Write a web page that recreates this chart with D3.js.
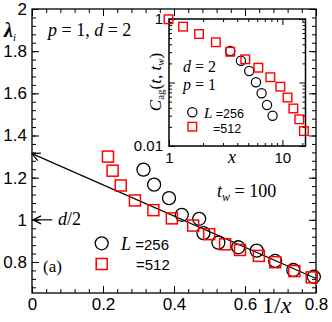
<!DOCTYPE html>
<html>
<head>
<meta charset="utf-8">
<script src="https://cdn.jsdelivr.net/npm/d3@7"></script>
<style>
body{margin:0;background:#fff;}
svg{display:block;}
.tick text{font-family:"Liberation Sans",Arial,sans-serif;}
</style>
</head>
<body>
<div id="chart-area"></div>
<script>
// main panel: lambda_i against 1/x
const invX256 = [0.314,0.344,0.386,0.422,0.471,0.483,0.525,0.581,0.633,0.685,0.736,0.794]
const lam256  = [1.238,1.167,1.103,1.024,1.005,0.937,0.892,0.870,0.854,0.805,0.762,0.730]
const invX512 = [0.214,0.227,0.250,0.290,0.342,0.394,0.454,0.499,0.544,0.586,0.639,0.685,0.739,0.788]
const lam512  = [1.300,1.233,1.163,1.092,1.046,1.007,0.973,0.932,0.884,0.857,0.829,0.799,0.757,0.727]
const fitLine = [[0,1.314],[0.8,0.722]]
const xTicks = [0,0.2,0.4,0.6,0.8]
const yTicks = [0.8,1,1.2,1.4,1.6,1.8,2]

// inset: C_ag(t,t_w) against x (log-log)
const insX256 = [3.47,4.31,5.1,5.85,6.56,7.32,8.2]
const insC256 = [0.313,0.22,0.152,0.101,0.0676,0.0443,0.030]
const insX512 = [0.99,1.33,1.84,2.59,3.47,4.71,6.14,7.83,9.6,11.1,12.5,14.1,15.5]
const insC512 = [0.99,0.757,0.58,0.43,0.305,0.232,0.171,0.121,0.086,0.058,0.039,0.0263,0.0172]

const W = 332, H = 322
const RED = '#f00'
const SERIF = '"Liberation Serif","Times New Roman",serif'
const SANS = '"Liberation Sans",Arial,sans-serif'

const svg = d3.select('#chart-area')
.append('svg')
.attr('width',W)
.attr('height',H)

// open arrowhead, tip pointing along +x
svg.append('defs').append('marker')
.attr('id','open-arrow')
.attr('viewBox','0 0 10 10')
.attr('refX',9).attr('refY',5)
.attr('markerWidth',10).attr('markerHeight',10)
.attr('markerUnits','userSpaceOnUse')
.attr('orient','auto-start-reverse')
.append('path')
.attr('d','M1,1 L9,5 L1,9')
.attr('fill','none')
.attr('stroke','#000')
.attr('stroke-width',1.2)

const x = d3.scaleLinear().domain([0,0.8]).range([32,316])
const y = d3.scaleLinear().domain([0.653,2]).range([293,9])

// frame + inward ticks on four sides
function axes(g, sx, sy, opt){
    const [x0,x1] = sx.range(), [y0,y1] = sy.range()
    const sides = [
        {ax:d3.axisBottom, s:sx, t:`translate(0,${y0})`, lab:opt.xLab, maj:opt.xMaj, min:opt.xMin},
        {ax:d3.axisTop,    s:sx, t:`translate(0,${y1})`, lab:null,       maj:opt.xMaj, min:opt.xMin},
        {ax:d3.axisLeft,   s:sy, t:`translate(${x0},0)`, lab:opt.yLab, maj:opt.yMaj, min:opt.yMin},
        {ax:d3.axisRight,  s:sy, t:`translate(${x1},0)`, lab:null,       maj:opt.yMaj, min:opt.yMin}
    ]
    sides.forEach(sd => {
        g.append('g').attr('transform',sd.t)
        .call(sd.ax(sd.s).tickValues(sd.min).tickSize(-opt.minLen).tickFormat(''))
        .call(a => a.select('.domain').remove())
        const major = g.append('g').attr('transform',sd.t)
        .call(sd.ax(sd.s).tickValues(sd.maj).tickSize(-opt.majLen).tickPadding(opt.pad)
            .tickFormat(sd.lab ? sd.lab : ''))
        .call(a => a.select('.domain').remove())
        major.selectAll('text').attr('font-size',opt.fs).attr('fill','#000')
    })
    g.selectAll('.tick line').attr('stroke','#000').attr('stroke-width',1)
    g.append('rect')
    .attr('x',x0).attr('y',y1)
    .attr('width',x1-x0).attr('height',y0-y1)
    .attr('fill','none').attr('stroke','#000').attr('stroke-width',opt.frame)
}

const main = svg.append('g')
axes(main, x, y, {
    xMaj:xTicks, xMin:d3.range(0,0.8001,0.04),
    yMaj:yTicks, yMin:d3.range(0.68,2.0001,0.04),
    xLab:d => String(d), yLab:d => String(d),
    majLen:7, minLen:4, pad:5, fs:17, frame:1.3
})

// fit line extrapolated to 1/x = 0
main.append('line')
.attr('x1',x(fitLine[0][0])).attr('y1',y(fitLine[0][1]))
.attr('x2',x(fitLine[1][0])).attr('y2',y(fitLine[1][1]))
.attr('stroke','#000').attr('stroke-width',1.2)
.attr('marker-start','url(#open-arrow)')

// d/2 arrow
main.append('line')
.attr('x1',x(0.057)).attr('y1',y(1))
.attr('x2',x(0.003)).attr('y2',y(1))
.attr('stroke','#000').attr('stroke-width',1.2)
.attr('marker-end','url(#open-arrow)')

main.selectAll('circle.c256')
.data(invX256.map((v,i) => [v,lam256[i]]))
.enter().append('circle')
.attr('cx',d => x(d[0])).attr('cy',d => y(d[1]))
.attr('r',6.5)
.attr('fill','none').attr('stroke','#000').attr('stroke-width',1.3)

main.selectAll('rect.s512')
.data(invX512.map((v,i) => [v,lam512[i]]))
.enter().append('rect')
.attr('x',d => x(d[0])-5.5).attr('y',d => y(d[1])-5.5)
.attr('width',11).attr('height',11)
.attr('fill','none').attr('stroke',RED).attr('stroke-width',1.5)

function txt(parent, px, py, size, parts, anchor){
    const t = parent.append('text')
    .attr('x',px).attr('y',py)
    .attr('font-size',size)
    .attr('font-family',SERIF)
    .attr('text-anchor',anchor || 'start')
    parts.forEach(p => {
        const s = t.append('tspan').text(p.t)
        if(p.i) s.attr('font-style','italic')
        if(p.b) s.attr('font-weight','bold')
        if(p.f) s.attr('font-family',p.f)
        if(p.fs) s.attr('font-size',p.fs)
        if(p.dy) s.attr('dy',p.dy)
        if(p.dx) s.attr('dx',p.dx)
    })
    return t
}

txt(svg, 4, 37, 20, [{t:'λ',b:1,i:1},{t:'i',i:1,fs:11,dy:4}])
txt(svg, 48, 36, 18, [{t:'p',i:1},{t:' = 1, '},{t:'d',i:1},{t:' = 2'}])
txt(svg, 217, 197, 18, [{t:'t',i:1},{t:'w',i:1,fs:12,dy:4},{t:' = 100',dy:-4}])
txt(svg, 58, 225, 18, [{t:'d',i:1},{t:'/2'}])
txt(svg, 43, 272, 17, [{t:'(a)'}])
txt(svg, 262, 313, 24, [{t:'1/'},{t:'x',i:1}])

// main legend
main.append('circle').attr('cx',101.7).attr('cy',243.3).attr('r',6.5)
.attr('fill','none').attr('stroke','#000').attr('stroke-width',1.3)
main.append('rect').attr('x',96.2).attr('y',258.5).attr('width',11).attr('height',11)
.attr('fill','none').attr('stroke',RED).attr('stroke-width',1.5)
txt(svg, 121, 250, 18, [{t:'L',i:1},{t:' =256',f:SANS,fs:15}])
txt(svg, 136, 270, 15, [{t:'=512',f:SANS}])

// inset
const xi = d3.scaleLog().domain([1,16]).range([169,305.5])
const yi = d3.scaleLog().domain([0.01,1]).range([146,19])

const ins = svg.append('g')
ins.append('rect').attr('x',169).attr('y',19).attr('width',136.5).attr('height',127).attr('fill','#fff')

const minorX = [2,3,4,5,6,7,8,9,15]
const minorY = [0.02,0.03,0.04,0.05,0.06,0.07,0.08,0.09,0.2,0.3,0.4,0.5,0.6,0.7,0.8,0.9]
axes(ins, xi, yi, {
    xMaj:[1,10], xMin:minorX,
    yMaj:[0.01,0.1,1], yMin:minorY,
    xLab:d => String(d), yLab:d => (d === 0.1 ? '' : String(d)),
    majLen:6, minLen:3, pad:6, fs:15, frame:1.5
})

ins.selectAll('circle.i256')
.data(insX256.map((v,i) => [v,insC256[i]]))
.enter().append('circle')
.attr('cx',d => xi(d[0])).attr('cy',d => yi(d[1]))
.attr('r',4.6)
.attr('fill','none').attr('stroke','#000').attr('stroke-width',1.2)

ins.selectAll('rect.i512')
.data(insX512.map((v,i) => [v,insC512[i]]))
.enter().append('rect')
.attr('x',d => xi(d[0])-4.3).attr('y',d => yi(d[1])-4.3)
.attr('width',8.6).attr('height',8.6)
.attr('fill','none').attr('stroke',RED).attr('stroke-width',1.4)

txt(svg, 183, 72, 16, [{t:'d',i:1},{t:' = 2'}])
txt(svg, 183, 90, 16, [{t:'p',i:1},{t:' = 1'}])
txt(svg, 232, 163, 18, [{t:'x',i:1}], 'middle')

ins.append('circle').attr('cx',192.3).attr('cy',112.3).attr('r',4.6)
.attr('fill','none').attr('stroke','#000').attr('stroke-width',1.2)
ins.append('rect').attr('x',188).attr('y',122.4).attr('width',8.6).attr('height',8.6)
.attr('fill','none').attr('stroke',RED).attr('stroke-width',1.4)
txt(svg, 204, 118, 15, [{t:'L',i:1},{t:' =256',f:SANS,fs:12.5}])
txt(svg, 213, 133, 12.5, [{t:'=512',f:SANS}])

txt(svg, 0, 0, 17, [{t:'C',i:1},{t:'ag',fs:11,dy:3},{t:'(',dy:-3},{t:'t',i:1},{t:', '},{t:'t',i:1},{t:'w',i:1,fs:11,dy:3},{t:')',dy:-3}], 'middle')
.attr('transform','translate(161,82) rotate(-90)')
</script>
</body>
</html>
